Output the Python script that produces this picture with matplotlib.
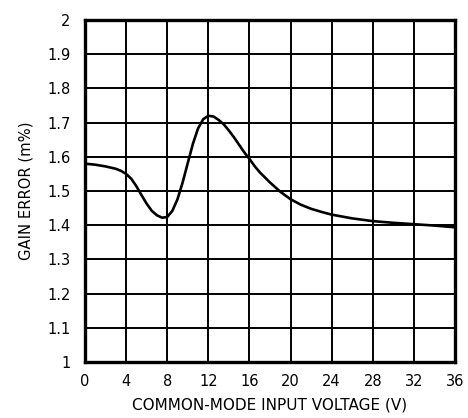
import matplotlib.pyplot as plt

# gain error vs common-mode input voltage
voltage = [0, 1, 2, 3, 3.5, 4, 4.5, 5, 5.5, 6, 6.5, 7, 7.5, 8, 8.5, 9,
           9.5, 10, 10.5, 11, 11.5, 12, 12.5, 13, 13.5, 14, 14.5, 15,
           15.5, 16, 16.5, 17, 18, 19, 20, 21, 22, 23, 24, 26, 28, 30,
           32, 34, 36]
gain_error = [1.58, 1.577, 1.572, 1.565, 1.559, 1.55, 1.536, 1.514, 1.488,
              1.463, 1.442, 1.429, 1.422, 1.424, 1.442, 1.476, 1.525, 1.582,
              1.638, 1.683, 1.71, 1.72, 1.718, 1.708, 1.695, 1.677, 1.657,
              1.635, 1.613, 1.594, 1.573, 1.555, 1.525, 1.498, 1.476, 1.46,
              1.448, 1.439, 1.431, 1.42, 1.412, 1.407, 1.403, 1.399, 1.394]

x_ticks = list(range(0, 37, 4))
y_ticks = [1, 1.1, 1.2, 1.3, 1.4, 1.5, 1.6, 1.7, 1.8, 1.9, 2]
y_labels = ["1", "1.1", "1.2", "1.3", "1.4", "1.5", "1.6", "1.7", "1.8", "1.9", "2"]

fig = plt.figure(figsize=(4.68, 4.18), dpi=100)
ax = fig.add_axes([0.1816, 0.134, 0.7906, 0.818])

ax.plot(voltage, gain_error, color="black", lw=1.9,
        solid_capstyle="round", solid_joinstyle="round")

ax.set_xlim(0, 36)
ax.set_ylim(1, 2)
ax.set_xticks(x_ticks)
ax.set_yticks(y_ticks)
ax.set_yticklabels(y_labels)
ax.grid(True, color="black", lw=1.4)
ax.tick_params(length=0, labelsize=10.5)
ax.tick_params(axis="x", pad=9)
ax.tick_params(axis="y", pad=10.5)
for s in ax.spines.values():
    s.set_linewidth(2.4)

ax.set_xlabel("COMMON-MODE INPUT VOLTAGE (V)", fontsize=11, labelpad=6)
ax.set_ylabel("GAIN ERROR (m%)", fontsize=10.6, labelpad=10)

fig.savefig("out.png", dpi=100)
